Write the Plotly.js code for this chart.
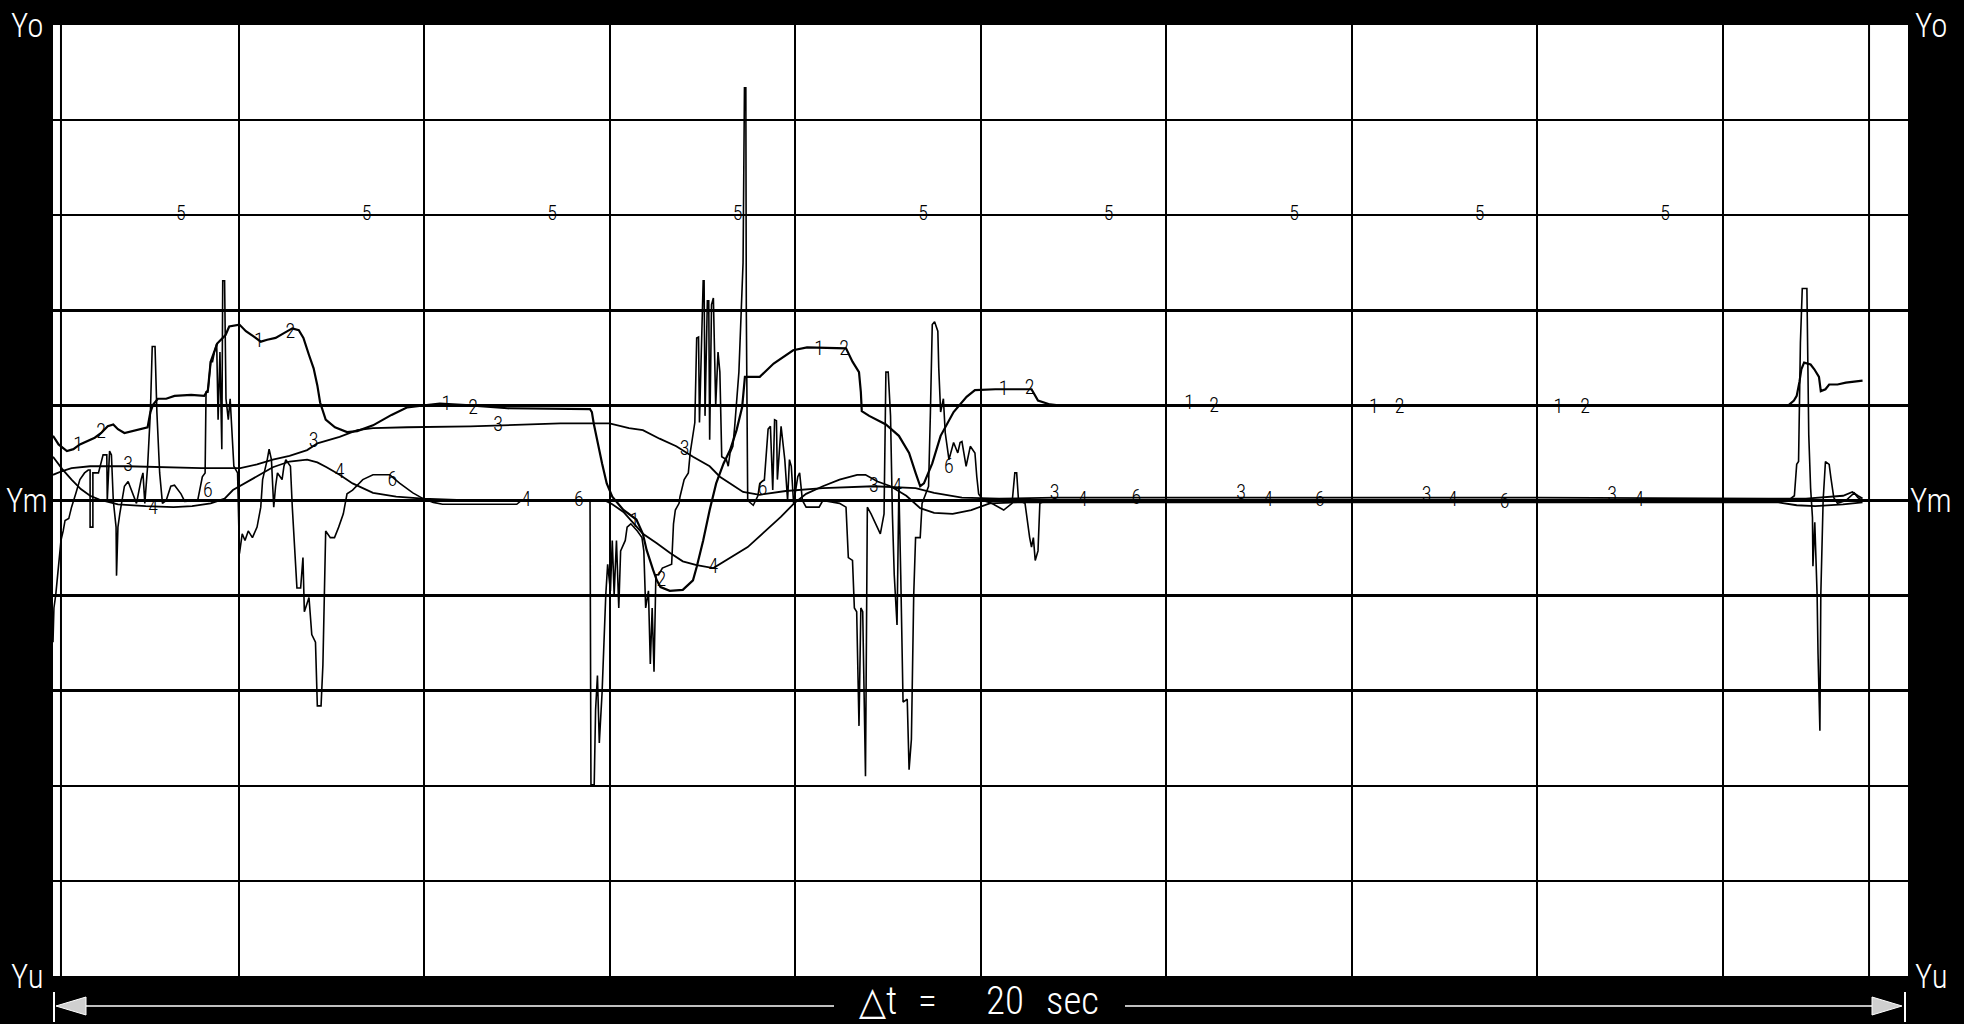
<!DOCTYPE html>
<html>
<head>
<meta charset="utf-8">
<script src="https://cdn.plot.ly/plotly-3.0.1.min.js"></script>
<style>html,body{margin:0;padding:0;background:#000;}#chart{width:1964px;height:1024px;}</style>
</head>
<body>
<div id="chart"></div>
<script>
// time axis: seconds (20 s across the frame), value axis: divisions (Yu=-5, Ym=0, Yo=5)
const xTicks = [0,2,4,6,8,10,12,14,16,18,20];
const yTicks = [-5,-4,-3,-2,-1,0,1,2,3,4,5];
const cursorTimes = [0.086, 19.58];
const sideLabels = ["Yo","Ym","Yu"];
const sideLabelValues = [5,0,-5];
const spanText = ["△t", "=", "20", "sec"];

// series 1 and 2 (they run together almost everywhere)
const curve12 = [[0,0.68],[0.06,0.59],[0.15,0.52],[0.22,0.54],[0.29,0.59],[0.36,0.62],[0.45,0.66],[0.52,0.71],[0.59,0.78],[0.65,0.80],[0.70,0.75],[0.77,0.71],[0.95,0.75],[1.02,0.77],[1.05,0.93],[1.08,1.01],[1.13,1.07],[1.22,1.07],[1.31,1.10],[1.49,1.11],[1.63,1.10],[1.67,1.16],[1.70,1.46],[1.74,1.56],[1.77,1.65],[1.86,1.74],[1.90,1.83],[2.01,1.85],[2.08,1.78],[2.17,1.72],[2.24,1.67],[2.31,1.69],[2.40,1.71],[2.49,1.76],[2.58,1.81],[2.65,1.79],[2.70,1.71],[2.76,1.53],[2.81,1.39],[2.85,1.21],[2.88,1.03],[2.94,0.85],[3.04,0.77],[3.17,0.72],[3.28,0.73],[3.45,0.79],[3.65,0.90],[3.82,0.98],[4.0,1.00],[4.17,1.02],[4.5,1.00],[4.9,0.97],[5.79,0.96],[5.81,0.93],[5.83,0.81],[5.88,0.56],[5.92,0.39],[5.97,0.18],[6.03,0.04],[6.15,-0.10],[6.29,-0.20],[6.36,-0.35],[6.40,-0.52],[6.47,-0.73],[6.51,-0.84],[6.55,-0.91],[6.65,-0.95],[6.79,-0.94],[6.90,-0.84],[6.94,-0.70],[7.01,-0.42],[7.08,-0.10],[7.15,0.18],[7.23,0.39],[7.30,0.53],[7.37,0.74],[7.43,0.98],[7.46,1.30],[7.62,1.30],[7.77,1.44],[7.98,1.58],[8.13,1.61],[8.55,1.60],[8.62,1.46],[8.69,1.35],[8.71,1.14],[8.72,0.94],[8.80,0.89],[8.98,0.80],[9.12,0.68],[9.23,0.50],[9.30,0.29],[9.35,0.15],[9.39,0.18],[9.48,0.39],[9.57,0.68],[9.71,0.93],[9.85,1.09],[9.94,1.16],[10.16,1.17],[10.55,1.17],[10.62,1.05],[10.75,1.01],[10.84,1.00],[12,1.00],[16,1.00],[18.71,1.00],[18.77,1.05],[18.80,1.10],[18.83,1.25],[18.85,1.38],[18.88,1.45],[18.95,1.43],[18.99,1.38],[19.04,1.30],[19.06,1.15],[19.11,1.17],[19.15,1.22],[19.24,1.22],[19.33,1.24],[19.42,1.25],[19.51,1.26]];

const curve3 = [[0,0.27],[0.1,0.31],[0.2,0.34],[0.4,0.36],[0.8,0.36],[1.2,0.35],[1.6,0.34],[2.02,0.34],[2.2,0.38],[2.37,0.43],[2.55,0.47],[2.74,0.53],[2.85,0.60],[3.09,0.67],[3.28,0.74],[3.45,0.76],[3.82,0.77],[4.5,0.78],[5.47,0.81],[6.0,0.81],[6.21,0.76],[6.36,0.74],[6.54,0.65],[6.72,0.57],[6.90,0.46],[7.08,0.36],[7.19,0.25],[7.33,0.16],[7.44,0.09],[7.62,0.06],[7.9,0.10],[8.3,0.13],[8.85,0.15],[9.3,0.13],[9.5,0.08],[9.8,0.03],[10.2,0.02],[10.8,0.03],[12,0.03],[16,0.03],[18.5,0.02],[18.9,0.02],[19.3,0.05],[19.4,0.09],[19.46,0.05],[19.51,0.02]];

const curve4 = [[0,0.46],[0.1,0.33],[0.2,0.22],[0.3,0.12],[0.4,0.05],[0.5,0.01],[0.7,-0.04],[1.0,-0.06],[1.3,-0.07],[1.5,-0.06],[1.7,-0.03],[1.85,0.02],[1.94,0.11],[2.1,0.20],[2.37,0.35],[2.55,0.41],[2.74,0.43],[2.85,0.40],[2.95,0.35],[3.09,0.27],[3.23,0.18],[3.45,0.08],[3.7,0.04],[3.99,0.02],[4.5,0.0],[5.5,0.0],[5.95,0.0],[6.03,-0.04],[6.15,-0.12],[6.26,-0.24],[6.36,-0.35],[6.51,-0.45],[6.65,-0.55],[6.79,-0.64],[6.94,-0.68],[7.12,-0.71],[7.30,-0.60],[7.49,-0.49],[7.67,-0.33],[7.85,-0.17],[7.99,-0.03],[8.12,0.07],[8.30,0.15],[8.48,0.22],[8.67,0.27],[8.76,0.27],[8.89,0.20],[9.03,0.15],[9.2,0.05],[9.35,-0.08],[9.5,-0.13],[9.7,-0.14],[9.9,-0.10],[10.1,-0.03],[10.4,-0.02],[12,-0.02],[16,-0.02],[18.6,-0.02],[18.8,-0.05],[19.0,-0.06],[19.3,-0.04],[19.51,-0.02]];

const curve5 = [[0,3.0],[19.51,3.0]];

const curve6 = [[0.00,-1.49],[0.01,-1.13],[0.03,-0.99],[0.05,-0.78],[0.07,-0.60],[0.086,-0.42],[0.11,-0.32],[0.13,-0.21],[0.17,-0.19],[0.20,-0.07],[0.245,0.07],[0.29,0.22],[0.34,0.29],[0.38,0.32],[0.40,0.32],[0.40,-0.28],[0.43,-0.28],[0.43,0.29],[0.49,0.29],[0.54,0.48],[0.58,0.48],[0.585,0.0],[0.61,0.52],[0.63,0.48],[0.65,0.0],[0.68,-0.28],[0.685,-0.79],[0.70,-0.28],[0.72,-0.14],[0.77,0.15],[0.81,0.20],[0.86,0.07],[0.90,-0.03],[0.95,0.22],[0.97,0.29],[0.99,-0.03],[1.02,0.36],[1.05,0.93],[1.07,1.62],[1.10,1.62],[1.12,0.93],[1.15,0.29],[1.18,-0.03],[1.22,0.0],[1.27,0.15],[1.31,0.16],[1.38,0.07],[1.42,-0.01],[1.56,0.0],[1.61,0.25],[1.64,0.29],[1.65,1.14],[1.67,1.14],[1.70,1.46],[1.72,1.46],[1.74,1.56],[1.765,1.65],[1.78,0.85],[1.80,1.56],[1.82,0.54],[1.83,2.31],[1.85,2.31],[1.865,1.07],[1.89,0.85],[1.91,1.07],[1.95,0.36],[1.99,0.29],[2.01,-0.56],[2.04,-0.35],[2.07,-0.42],[2.105,-0.32],[2.15,-0.39],[2.20,-0.28],[2.24,-0.07],[2.26,0.22],[2.31,0.43],[2.33,0.54],[2.355,0.43],[2.38,-0.07],[2.40,0.15],[2.42,0.29],[2.47,0.22],[2.49,0.36],[2.51,0.43],[2.56,0.36],[2.58,-0.07],[2.63,-0.92],[2.67,-0.92],[2.695,-0.60],[2.71,-1.17],[2.76,-1.02],[2.79,-1.41],[2.83,-1.49],[2.85,-2.16],[2.89,-2.16],[2.91,-1.73],[2.94,-0.32],[2.99,-0.39],[3.035,-0.39],[3.08,-0.28],[3.13,-0.14],[3.17,0.07],[3.23,0.11],[3.34,0.22],[3.45,0.27],[3.63,0.27],[3.74,0.18],[3.88,0.08],[3.99,0.02],[4.1,-0.02],[4.2,-0.04],[5.0,-0.04],[5.05,0.0],[5.79,0.0],[5.80,-2.99],[5.835,-2.99],[5.85,-2.20],[5.87,-1.84],[5.89,-2.55],[5.92,-2.02],[5.94,-1.49],[5.96,-0.99],[5.98,-0.67],[6.01,-0.95],[6.03,-0.42],[6.05,-0.99],[6.075,-0.42],[6.10,-1.13],[6.12,-0.53],[6.17,-0.42],[6.19,-0.28],[6.23,-0.245],[6.30,-0.32],[6.35,-0.39],[6.37,-0.53],[6.39,-1.13],[6.42,-0.95],[6.44,-1.72],[6.46,-1.13],[6.48,-1.80],[6.50,-0.78],[6.53,-0.78],[6.57,-0.71],[6.67,-0.67],[6.69,-0.245],[6.71,-0.10],[6.75,-0.03],[6.76,0.04],[6.805,0.22],[6.85,0.29],[6.87,0.50],[6.92,0.82],[6.94,1.71],[6.96,1.72],[6.97,0.82],[7.01,2.31],[7.02,2.31],[7.03,0.89],[7.055,2.10],[7.07,2.10],[7.08,0.64],[7.10,2.06],[7.12,2.13],[7.145,1.0],[7.17,1.56],[7.19,1.35],[7.21,0.46],[7.26,0.43],[7.28,0.36],[7.30,0.50],[7.33,0.57],[7.35,0.78],[7.395,1.35],[7.42,1.99],[7.44,2.5],[7.455,4.34],[7.47,4.34],[7.475,2.0],[7.49,0.0],[7.55,-0.05],[7.6,0.05],[7.62,0.18],[7.67,0.22],[7.71,0.75],[7.735,0.78],[7.76,0.11],[7.78,0.85],[7.80,0.84],[7.81,0.22],[7.85,0.78],[7.87,0.57],[7.89,0.43],[7.92,0.0],[7.94,0.43],[7.96,0.36],[7.985,-0.03],[8.03,0.25],[8.05,0.29],[8.08,0.0],[8.12,-0.07],[8.26,-0.07],[8.30,0.0],[8.48,-0.03],[8.55,-0.07],[8.575,-0.60],[8.62,-0.63],[8.64,-1.13],[8.665,-1.17],[8.69,-2.37],[8.71,-1.13],[8.73,-1.17],[8.76,-2.90],[8.78,-0.07],[8.82,-0.14],[8.87,-0.245],[8.92,-0.35],[8.96,-0.14],[8.98,1.35],[9.005,1.35],[9.03,0.89],[9.05,-0.14],[9.07,-0.78],[9.10,-1.31],[9.12,0.15],[9.14,-0.78],[9.165,-2.12],[9.21,-2.09],[9.23,-2.83],[9.255,-2.51],[9.28,-0.99],[9.30,-0.39],[9.35,-0.39],[9.37,-0.03],[9.44,0.15],[9.46,0.93],[9.48,1.85],[9.505,1.88],[9.54,1.78],[9.55,1.39],[9.57,0.93],[9.60,1.07],[9.62,0.71],[9.66,0.43],[9.71,0.61],[9.755,0.50],[9.78,0.61],[9.80,0.62],[9.845,0.36],[9.89,0.57],[9.94,0.50],[9.96,0.25],[9.98,0.07],[10.03,0.0],[10.12,-0.03],[10.25,-0.10],[10.34,-0.03],[10.37,0.29],[10.39,0.29],[10.41,0.0],[10.48,-0.03],[10.53,-0.39],[10.55,-0.49],[10.57,-0.39],[10.59,-0.63],[10.62,-0.53],[10.64,-0.03],[10.71,0.0],[18.71,0.0],[18.775,0.05],[18.80,0.38],[18.82,0.41],[18.84,1.66],[18.86,2.23],[18.91,2.23],[18.93,0.69],[18.95,0.13],[18.97,-0.18],[18.975,-0.69],[18.995,-0.23],[19.02,-0.99],[19.03,-1.61],[19.05,-2.42],[19.06,-0.99],[19.085,0.0],[19.11,0.41],[19.15,0.38],[19.17,0.23],[19.20,0.03],[19.24,-0.03],[19.33,0.0],[19.42,0.08],[19.46,0.03],[19.51,0.0]];

// curve number labels written along the traces
const labelText = ["1","1","1","1","1","1","1","1","1",
  "2","2","2","2","2","2","2","2","2",
  "3","3","3","3","3","3","3","3","3",
  "4","4","4","4","4","4","4","4","4",
  "5","5","5","5","5","5","5","5","5",
  "6","6","6","6","6","6","6","6"];
const labelT = [0.27,2.22,4.24,6.27,8.26,10.25,12.25,14.24,16.23,
  0.52,2.56,4.53,6.56,8.53,10.53,12.52,14.52,16.52,
  0.81,2.81,4.80,6.81,8.85,10.80,12.81,14.81,16.81,
  1.08,3.09,5.10,7.12,9.10,11.10,13.10,15.09,17.10,
  1.38,3.38,5.38,7.38,9.38,11.38,13.38,15.38,17.38,
  1.67,3.66,5.67,7.65,9.66,11.68,13.66,15.65];
const labelV = [0.57,1.67,1.00,-0.23,1.58,1.16,1.01,0.97,0.97,
  0.71,1.76,0.96,-0.85,1.58,1.17,0.98,0.97,0.97,
  0.36,0.61,0.78,0.53,0.145,0.07,0.07,0.05,0.05,
  -0.085,0.29,0.0,-0.71,0.13,0.0,0.0,0.0,0.0,
  3.0,3.0,3.0,3.0,3.0,3.0,3.0,3.0,3.0,
  0.09,0.20,-0.01,0.11,0.34,0.02,-0.01,-0.03];

const thinFont = "Roboto Condensed, Liberation Sans Narrow, DejaVu Sans Condensed, Roboto, sans-serif";

function lineTrace(pts, w){
  return {x: pts.map(p=>p[0]), y: pts.map(p=>p[1]), type:"scatter", mode:"lines",
    line:{color:"#000", width:w}, hoverinfo:"skip", showlegend:false};
}
const traces = [
  lineTrace(curve5, 1.6),
  lineTrace(curve3, 1.8),
  lineTrace(curve4, 1.8),
  lineTrace(curve12, 2.2),
  lineTrace(curve6, 1.6),
  {x: labelT, y: labelV, text: labelText, type:"scatter", mode:"text", textposition:"middle center",
   textfont:{family: thinFont, size:20, color:"#000", weight:300}, hoverinfo:"skip", showlegend:false}
];

// frame geometry helpers (paper coordinates)
const L=53, R=56, T=25, B=48, W=1964, H=1024;
const pw = W-L-R, ph = H-T-B;
const px = x => (x-L)/pw;
const py = y => (H-B-y)/ph;

const shapes = cursorTimes.map(t => ({type:"line", xref:"x", yref:"paper", x0:t, x1:t, y0:0, y1:1,
  line:{color:"#000", width:2}}));
// bottom span arrow
const arrowY = py(1006);
shapes.push({type:"line", xref:"paper", yref:"paper", x0:px(54), x1:px(54), y0:py(992), y1:py(1022), line:{color:"#fff", width:2}});
shapes.push({type:"line", xref:"paper", yref:"paper", x0:px(1905), x1:px(1905), y0:py(992), y1:py(1022), line:{color:"#fff", width:2}});
shapes.push({type:"path", xref:"paper", yref:"paper",
  path:`M ${px(56)} ${arrowY} L ${px(86)} ${py(997)} L ${px(86)} ${py(1015)} Z`,
  fillcolor:"#cfcfcf", line:{color:"#fff", width:1}});
shapes.push({type:"path", xref:"paper", yref:"paper",
  path:`M ${px(1902)} ${arrowY} L ${px(1872)} ${py(997)} L ${px(1872)} ${py(1015)} Z`,
  fillcolor:"#cfcfcf", line:{color:"#fff", width:1}});
shapes.push({type:"line", xref:"paper", yref:"paper", x0:px(86), x1:px(834), y0:arrowY, y1:arrowY, line:{color:"#fff", width:1.5}});
shapes.push({type:"line", xref:"paper", yref:"paper", x0:px(1125), x1:px(1872), y0:arrowY, y1:arrowY, line:{color:"#fff", width:1.5}});

const annotations = [];
sideLabels.forEach((s,i)=>{
  const v = sideLabelValues[i];
  annotations.push({text:s, xref:"paper", yref:"y", x:px(27), y:v, xanchor:"center", yanchor:"middle",
    showarrow:false, font:{family:thinFont, size:33, color:"#fff", weight:300}});
  annotations.push({text:s, xref:"paper", yref:"y", x:px(1931), y:v, xanchor:"center", yanchor:"middle",
    showarrow:false, font:{family:thinFont, size:33, color:"#fff", weight:300}});
});
const spanX = [878, 927, 1005, 1072];
spanText.forEach((s,i)=>{
  annotations.push({text:s, xref:"paper", yref:"paper", x:px(spanX[i]), y:py(1001), xanchor:"center", yanchor:"middle",
    showarrow:false, font:{family:thinFont, size:39, color:"#fff", weight:300}});
});

const layout = {
  width: W, height: H, autosize:false,
  paper_bgcolor:"#000", plot_bgcolor:"#fff",
  margin:{l:L, r:R, t:T, b:B, pad:0},
  xaxis:{range:[0,20], tickvals:xTicks, showticklabels:false, ticks:"", showgrid:true, gridcolor:"#000", gridwidth:2,
    zeroline:false, showline:false, fixedrange:true},
  yaxis:{range:[-5,5], tickvals:yTicks, showticklabels:false, ticks:"", showgrid:true, gridcolor:"#000", gridwidth:2.5,
    zeroline:false, showline:false, fixedrange:true},
  shapes: shapes,
  annotations: annotations,
  showlegend:false
};
Plotly.newPlot("chart", traces, layout, {staticPlot:true, displayModeBar:false});
</script>
</body>
</html>
